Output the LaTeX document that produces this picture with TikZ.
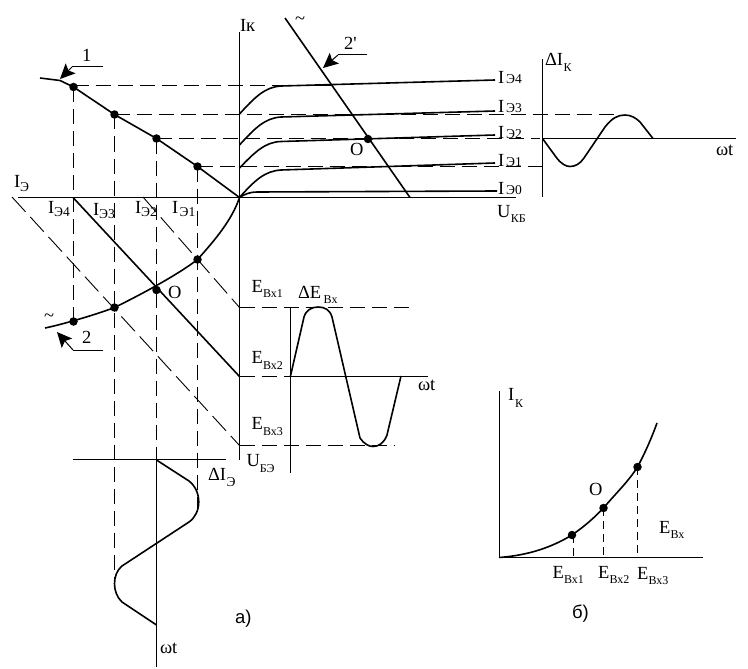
\documentclass[tikz,border=0pt]{standalone}
\usepackage{fontspec}
\setmainfont{Liberation Serif}
\newfontfamily\lsans{Liberation Sans}
\usetikzlibrary{arrows.meta}
\newcommand{\mainf}{\fontsize{18.5}{18.5}\selectfont}
\newcommand{\subf}{\fontsize{12}{12}\selectfont}
\newcommand{\subg}{\fontsize{13.5}{13.5}\selectfont}
% \lab{name}{x,y}{main}{kern}{drop}{sub}
\newcommand{\lab}[6]{\node[txt] (#1) at (#2) {\mainf #3\kern#4pt\raisebox{-#5pt}{\subf #6}};}
\tikzset{
  txt/.style={anchor=base west,inner sep=0pt,outer sep=0pt},
  axis/.style={line width=1pt,black},
  curve/.style={line width=1.6pt,black,line join=round},
  dash1/.style={line width=1pt,black,dash pattern=on 15pt off 7pt},
  dash2/.style={line width=0.9pt,black,dash pattern=on 20pt off 7pt},
  dot/.style={circle,fill=black,inner sep=0pt,minimum size=8.5pt},
  lead/.style={line width=1pt,black},
  tipped/.style={line width=1pt,black,-{Stealth[length=15pt,width=14pt,inset=3pt]}},
}
\begin{document}
\begin{tikzpicture}[x=1pt,y=-1pt]
\useasboundingbox (0,0) rectangle (748,669);
\fill[white] (0,0) rectangle (748,669);
% named points
\coordinate (O1) at (239.5,197.5);
\coordinate (top) at (239.5,32);
\coordinate (axb) at (239.5,460);
\coordinate (axl) at (18,197.5);
\coordinate (axr) at (516,197.5);
\node[dot] (a1) at (73.5,87) {};
\node[dot] (a2) at (114.5,114.5) {};
\node[dot] (a3) at (156.5,138.5) {};
\node[dot] (a4) at (197.5,166.5) {};
\node[dot] (b1) at (73.5,321.5) {};
\node[dot] (b2) at (114.5,307.5) {};
\node[dot] (b3) at (156.5,290) {};
\node[dot] (b4) at (197.5,259.5) {};
\node[dot] (op) at (368,139) {};
\coordinate (e1) at (239.5,307.5);
\coordinate (e2) at (239.5,376.5);
\coordinate (e3) at (239.5,445.5);
% axes
\draw[axis] (top) -- (axb);
\draw[axis] (axl) -- (axr);
% input curve top-left
\draw[curve] (40,78) -- (60,80.5) -- (a1.center) -- (a2.center) -- (a3.center) -- (a4.center) -- (O1);
% bottom-left curve
\draw[curve] (45,328) .. controls (60,325) and (95,315) .. (b2.center) .. controls (130,300) and (175,277) .. (b4.center) .. controls (215,240) and (232,220) .. (O1);
% load lines
\draw[curve] (73,197.5) -- (e2);
\draw[curve] (285,18) -- (410,197.5);
% dashed diagonals
\draw[dash2] (12,197) -- (e3);
\draw[dash2] (143,197) -- (e1);
% output characteristics
\draw[curve] (239.5,114) .. controls (255,97) and (265,87) .. (281,86) -- (495,80);
\draw[curve] (239.5,145) .. controls (255,128) and (265,118) .. (281,117) -- (495,111);
\draw[curve] (239.5,168) .. controls (255,152) and (265,142) .. (281,141.5) -- (495,135);
\draw[curve] (O1) .. controls (255,180) and (265,171) .. (281,170) -- (495,163);
\draw[curve] (O1) .. controls (245,194) and (250,192) .. (257,192) -- (497,191);
% dashed horizontals
\draw[dash1] (73.5,85.5) -- (333,85.5);
\draw[dash1] (a2.center) -- (615,114.5);
\draw[dash1] (a3.center) -- (540,138.5);
\draw[dash1] (a4.center) -- (546,166.5);
% dashed verticals
\draw[dash1] (a1.center) -- (b1.center);
\draw[dash1] (a2.center) -- (114.5,582);
\draw[dash1] (a3.center) -- (156.5,460);
\draw[dash1] (a4.center) -- (197.5,514);
% input dashed levels
\draw[dash1] (e1) -- (413,307.5);
\draw[dash1] (e2) -- (290.5,376.5);
\draw[dash1] (e3) -- (395,445.5);
% emitter current wave
\draw[axis] (73,459.5) -- (226,459.5);
\draw[axis] (156.5,459.5) -- (156.5,667);
\draw[curve] (156.5,460) -- (189,481) .. controls (202,491) and (202,513) .. (189,522) -- (122,566) .. controls (112,574) and (112,593) .. (122,602) -- (156.5,625);
% input voltage wave
\draw[axis] (290.5,307) -- (290.5,473);
\draw[axis] (290.5,376.5) -- (428,376.5);
\draw[curve] (290.5,376) -- (304,317) .. controls (306,310) and (312,307) .. (318,307) .. controls (325,307) and (330,310) .. (332,317) -- (360,438) .. controls (364,444) and (369,446.5) .. (373,446.5) .. controls (379,446.5) and (384,443) .. (387,435) -- (401,376);
% collector current wave
\draw[axis] (542.5,59) -- (542.5,197);
\draw[axis] (542.5,138.5) -- (736,138.5);
\draw[curve] (542.5,138.5) -- (556,157) .. controls (561,164) and (566,166.5) .. (570,166.5) .. controls (575,166.5) and (580,164) .. (584,158) -- (605,127) .. controls (612,118) and (618,115) .. (625,115) .. controls (631,115) and (636,118) .. (640,122) -- (653,138.5);
% leaders with arrows
\coordinate (l1a) at (103,67); \coordinate (l1b) at (72,67); \coordinate (l1c) at (60,79);
\draw[lead] (l1a) -- (l1b); \draw[tipped] (l1b) -- (l1c);
\coordinate (l2a) at (103,350); \coordinate (l2b) at (73,350); \coordinate (l2c) at (57,332);
\draw[lead] (l2a) -- (l2b); \draw[tipped] (l2b) -- (l2c);
\coordinate (l3a) at (367,55); \coordinate (l3b) at (338,55); \coordinate (l3c) at (323,68);
\draw[lead] (l3a) -- (l3b); \draw[tipped] (l3b) -- (l3c);
% plot b
\coordinate (pO) at (499.5,557.5);
\node[dot] (p1) at (572,535) {};
\node[dot] (p2) at (603.5,508) {};
\node[dot] (p3) at (637.5,467) {};
\draw[axis] (pO) -- (499.5,391);
\draw[axis] (pO) -- (703,557.5);
\draw[curve] (pO) .. controls (530,555) and (552,547) .. (p1.center) .. controls (585,526) and (595,517) .. (p2.center) .. controls (617,492) and (628,482) .. (p3.center) .. controls (645,453) and (652,437) .. (657,423);
\draw[dash1,dash pattern=on 8pt off 5pt] (573.5,535) -- (573.5,557);
\draw[dash1,dash pattern=on 8pt off 5pt] (p2.center) -- (603.5,557);
\draw[dash1,dash pattern=on 8pt off 5pt] (p3.center) -- (637.5,557);
% labels
\node[txt] (tik) at (240,32) {\mainf Iк};
\lab{tie}{14,187.5}{I}{0}{4}{\subg Э}
\lab{te4}{48,213}{I}{0}{3}{\subg Э4}
\lab{te3}{93,215}{I}{0}{3}{\subg Э3}
\lab{te2}{135,213.5}{I}{0}{3}{\subg Э2}
\lab{te1}{172,213.5}{I}{1.5}{3}{\subg Э1}
\node[txt] (t1) at (82,62) {\mainf 1};
\node[txt] (t2p) at (344,50) {\mainf 2\textquotesingle};
\node[txt] (tt1) at (295,25) {\mainf \char"007E};
\node[txt] (tt2) at (44,321) {\mainf \char"007E};
\node[txt] (t2) at (82,343) {\mainf 2};
\node[txt] (to1) at (350,156) {\mainf O};
\node[txt] (to2) at (168,298) {\mainf O};
\lab{tr4}{498,84}{I}{2}{0}{\subg Э4}
\lab{tr3}{498,113}{I}{2}{0}{\subg Э3}
\lab{tr2}{498,139}{I}{2}{0}{\subg Э2}
\lab{tr1}{498,167}{I}{2}{0}{\subg Э1}
\lab{tr0}{498,194}{I}{2}{0}{\subg Э0}
\lab{tukb}{497,217}{U}{0.5}{5}{КБ}
\lab{tdik}{545,66}{ΔI}{0.5}{6}{К}
\node[txt] (tw1) at (716,156) {\mainf ωt};
\lab{tex1}{251.5,292}{E}{0.2}{5}{Вх1}
\lab{tdex}{298,298}{ΔE}{2.5}{5}{Вх}
\lab{tex2}{251.5,363}{E}{0.2}{6}{Вх2}
\lab{tex3}{251.5,429.5}{E}{0.2}{6}{Вх3}
\lab{tube}{246.5,466}{U}{0}{6}{БЭ}
\node[txt] (tw2) at (418,390) {\mainf ωt};
\lab{tdie}{208,480}{ΔI}{0.5}{6}{\subg Э}
\node[txt] (ta) at (235,623) {\lsans\mainf а)};
\node[txt] (tw3) at (160,653) {\mainf ωt};
\node[txt] (tb) at (572,618) {\lsans\mainf б)};
\lab{tpik}{508,400}{I}{1}{7}{К}
\node[txt] (tpo) at (589,495) {\mainf O};
\lab{tpe}{659,533}{E}{0.2}{5}{Вх}
\lab{tpe1}{552.5,578}{E}{0.2}{5}{Вх1}
\lab{tpe2}{598,578}{E}{0.2}{5}{Вх2}
\lab{tpe3}{637,579}{E}{0.2}{5}{Вх3}
\end{tikzpicture}
\end{document}
